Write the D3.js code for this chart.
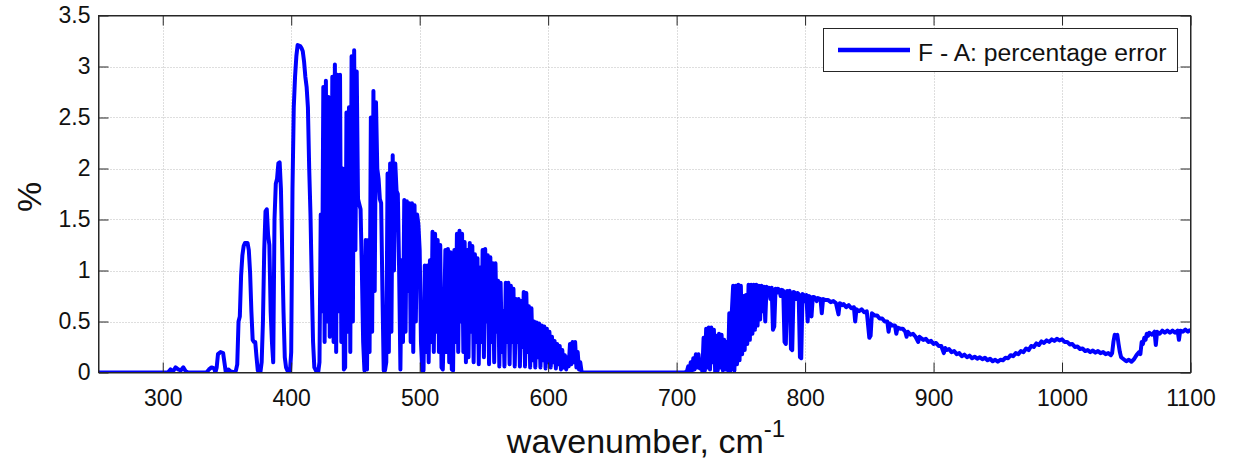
<!DOCTYPE html>
<html>
<head>
<meta charset="utf-8">
<script src="https://cdn.jsdelivr.net/npm/d3@7/dist/d3.min.js"></script>
<style>
  html, body { margin: 0; padding: 0; background: #fff; }
  svg { display: block; font-family: "Liberation Sans", Arial, Helvetica, sans-serif; }
</style>
</head>
<body>
<svg id="chart" width="1235" height="462"></svg>
<script>
// Percentage error spectrum (F - A), wavenumber in cm^-1 vs. %
// Each segment holds [wavenumber, percent] pairs.
const quietBand = [[250,0],[304,0],[306,0.03],[308,0.01],[310,0.05],[312,0.03],[314,0.02],[316,0.05],[318,0.01],[320,0],
  [334,0],[336,0.03],[338,0.05],[340,0.04],[341,0],[342,0.05],[343,0.18],[345,0.2],[347,0.19],[348,0.1],[349,0.01],
  [351,0.03],[353,0.01],[356,0]];

const band360 = [[357,0.02],[358,0.08],[359,0.5],[360,0.55],[361,0.95],[362,1.15],[363,1.24],[364,1.27],[366,1.27],
  [367,1.2],[368,0.98],[369,0.6],[370,0.32],[371,0.3],[372,0.3],[373,0.15],[374,0.02],[376,0],[377,0.1],[378,0.5],
  [379,1.2],[380,1.58],[381,1.6],[382,1.35],[383,1.25],[384,0.6],[385,0.3],[386,0.1],[387,1.5],[388,1.85],[389,1.9],
  [390,2.05],[391,2.06],[392,1.8],[393,1.2],[394,0.6],[395,0.15],[396,0.05],[397,0.02],[399,0],[400,0.2],[401,1.8],
  [402,2.6],[403,2.9],[404,3.1],[405,3.21],[407,3.2],[408,3.18],[409,3.15],[410,3.05],[411,2.9],[412,2.8],[413,2.6],
  [414,2.0],[415,1.55],[416,0.9],[417,0.3],[418,0.05],[420,0]];

const band420 = [[421,0],[422,0.1],[423,1.55],[424,0.6],[425,2.8],[426,0.3],[427,2.86],[428,0.5],[429,2.7],[430,0.35],
  [431,0.4],[432,2.9],[433,0.3],[434,3.02],[435,0.2],[436,2.92],[437,0.6],[438,2.92],[439,0.3],[440,2.0],[441,0.03],
  [442,0.05],[443,2.55],[444,0.4],[445,2.6],[446,0.2],[447,3.1],[448,0.5],[449,3.16],[450,1.2],[451,2.95],[452,1.7],
  [453,1.65],[454,1.6],[455,1.0],[456,0.3],[457,0.02],[458,1.3],[459,0.03],[460,1.3],[461,0.2],[462,2.5],[463,0.4],
  [464,2.76],[465,0.8],[466,2.65],[467,2.0],[468,1.9],[469,1.7],[470,1.66],[471,0.8],[472,0.02],[473,0.02],[474,0.1],
  [475,1.95],[476,0.2],[477,2.05],[478,0.4],[479,2.13],[480,1.0],[481,2.05],[482,1.78],[483,1.75],[484,1.0],
  [485,0.03],[486,1.1],[487,0.3],[488,1.69],[489,0.4],[490,1.68],[491,0.8],[492,1.66],[493,0.3],[494,1.66],[495,0.2],
  [496,1.64],[497,0.5],[498,1.55],[499,1.45],[500,1.2],[501,0.3],[502,0.02]];

const band500 = [[503,0.02],[504,1.05],[505,0.2],[506,1.05],[507,0.1],[508,1.1],[509,0.3],[510,1.38],[511,0.2],
  [512,1.36],[513,0.4],[514,1.3],[515,0.2],[516,1.25],[517,0.05],[518,0.03],[519,0.5],[520,1.2],[521,0.2],[522,1.21],
  [523,0.1],[524,1.18],[525,0.03],[526,0.02],[527,1.2],[528,0.3],[529,1.36],[530,0.2],[531,1.39],[532,0.5],[533,1.36],
  [534,0.2],[535,1.28],[536,0.1],[537,1.2],[538,0.15],[539,1.27],[540,0.4],[541,1.24],[542,0.1],[543,1.16],[544,0.3],
  [545,1.12],[546,0.08],[547,1.03],[548,0.3],[549,1.2],[550,0.15],[551,1.21],[552,0.5],[553,1.15],[554,0.08],
  [555,1.13],[556,0.3],[557,1.07],[558,0.1],[559,1.07],[560,0.4],[561,0.9],[562,0.06],[563,0.88],[564,0.2],[565,0.6],
  [566,0.06],[567,0.88],[568,0.3],[569,0.88],[570,0.08],[571,0.85],[572,0.3],[573,0.82],[574,0.06],[575,0.72],
  [576,0.3],[577,0.72],[578,0.06],[579,0.7],[580,0.25],[581,0.79],[582,0.06],[583,0.78],[584,0.2],[585,0.65],
  [586,0.05],[587,0.63],[588,0.12],[589,0.5],[590,0.05],[591,0.49],[592,0.15],[593,0.48],[594,0.05],[595,0.46],
  [596,0.12],[597,0.45],[598,0.04],[599,0.43],[600,0.1],[601,0.4],[602,0.05],[603,0.35],[604,0.1],[605,0.31],
  [606,0.04],[607,0.28],[608,0.08],[609,0.26],[610,0.03],[611,0.22],[612,0.05],[613,0.17],[614,0.03],[615,0.15],
  [616,0.06],[617,0.28],[618,0.08],[619,0.3],[620,0.1],[621,0.3],[622,0.05],[623,0.2],[624,0.03],[625,0.1],
  [626,0.01],[627,0]];

const gapBand = [[628,0],[705,0]];

const band710 = [[706,0],[708,0.01],[709,0.06],[710,0],[711,0.1],[712,0.02],[713,0.14],[714,0.03],[715,0.18],
  [716,0.05],[717,0.18],[718,0.04],[719,0.08],[720,0.01],[721,0.34],[722,0.02],[723,0.43],[724,0.05],[725,0.44],
  [726,0.03],[727,0.44],[728,0.1],[729,0.42],[730,0.01],[731,0.36],[732,0.02],[733,0.38],[734,0.05],[735,0.37],
  [736,0.02],[737,0.32],[738,0.03],[739,0.3],[740,0.02],[741,0.58],[742,0.02],[743,0.6]];

const band745 = [[744,0.85],[745,0.02],[746,0.85],[747,0.08],[748,0.86],[749,0.12],[750,0.85],[751,0.18],[752,0.75],
  [753,0.22],[754,0.76],[755,0.28],[756,0.86],[757,0.32],[758,0.86],[759,0.38],[760,0.86],[761,0.42],[762,0.86],
  [763,0.46],[764,0.85],[765,0.52],[766,0.85],[767,0.6],[768,0.84],[769,0.5],[770,0.84],[771,0.8],[772,0.83],
  [773,0.72],[774,0.83],[775,0.42],[776,0.45],[777,0.82],[778,0.78],[779,0.82],[780,0.81],[781,0.75],[782,0.81],
  [783,0.8],[784,0.3],[785,0.28],[786,0.8],[787,0.79],[788,0.8],[789,0.23],[790,0.22],[791,0.79],[792,0.78],
  [793,0.72],[794,0.78],[795,0.77],[796,0.15],[797,0.14],[798,0.77],[799,0.76],[800,0.7],[801,0.76],[802,0.5],
  [803,0.75],[804,0.74],[805,0.55],[806,0.74],[807,0.74],[808,0.73],[809,0.7],[810,0.73],[812,0.72],[813,0.58],
  [814,0.72],[816,0.71],[818,0.71],[820,0.69],[822,0.7],[824,0.68],[826,0.57],[827,0.68],[829,0.66]];

const tailBand = [[830,0.67],[832,0.64],[834,0.66],[836,0.63],[838,0.64],[839,0.5],[840,0.62],[842,0.6],[844,0.62],
  [846,0.59],[848,0.6],[850,0.34],[851,0.36],[852,0.58],[854,0.56],[856,0.56],[858,0.53],[860,0.53],[862,0.5],
  [864,0.5],[865,0.4],[866,0.48],[868,0.46],[870,0.46],[871,0.38],[872,0.44],[874,0.43],[876,0.43],[878,0.4],
  [879,0.35],[880,0.4],[882,0.37],[884,0.38],[886,0.35],[888,0.3],[889,0.35],[890,0.34],[892,0.32],[894,0.33],
  [896,0.3],[898,0.31],[900,0.28],[902,0.29],[904,0.26],[906,0.26],[908,0.19],[909,0.24],[910,0.22],[912,0.23],
  [914,0.2],[916,0.21],[918,0.18],[920,0.19],[922,0.16],[924,0.175],[926,0.15],[928,0.165],[930,0.14],[932,0.155],
  [934,0.135],[936,0.15],[938,0.13],[940,0.145],[942,0.12],[944,0.135],[946,0.11],[948,0.125],[950,0.105],
  [952,0.125],[954,0.12],[956,0.145],[958,0.14],[960,0.17],[962,0.16],[964,0.19],[966,0.18],[968,0.21],[970,0.2],
  [972,0.235],[974,0.22],[976,0.26],[978,0.25],[980,0.285],[982,0.27],[984,0.305],[986,0.29],[988,0.315],[990,0.3],
  [992,0.325],[994,0.31],[996,0.33],[998,0.315],[1000,0.325],[1002,0.3],[1004,0.3],[1006,0.275],[1008,0.28],
  [1010,0.25],[1012,0.255],[1014,0.23],[1016,0.235],[1018,0.21],[1020,0.22],[1022,0.2],[1024,0.215],[1026,0.195],
  [1028,0.21],[1030,0.19],[1032,0.2],[1034,0.18],[1036,0.19],[1038,0.17],[1039,0.19],[1040,0.3],[1041,0.37],
  [1042,0.36],[1043,0.37],[1044,0.28],[1045,0.2],[1046,0.15],[1048,0.13],[1050,0.11],[1052,0.125],[1054,0.105],
  [1056,0.13],[1058,0.17],[1060,0.2],[1061,0.18],[1062,0.3],[1063,0.28],[1064,0.34],[1065,0.32],[1066,0.38],
  [1067,0.36],[1068,0.39],[1070,0.37],[1072,0.4],[1073,0.27],[1074,0.4],[1076,0.38],[1078,0.41],[1080,0.39],
  [1082,0.41],[1084,0.39],[1086,0.41],[1088,0.39],[1090,0.41],[1091,0.32],[1092,0.41],[1094,0.4],[1096,0.42],
  [1098,0.4],[1100,0.42]];

const xTicks = [300, 400, 500, 600, 700, 800, 900, 1000, 1100];
const yTicks = [0, 0.5, 1, 1.5, 2, 2.5, 3, 3.5];
const legendLabel = "F - A: percentage error";

const series = [].concat(quietBand, band360, band420, band500, gapBand, band710, band745, tailBand);

const svg = d3.select("#chart");
const plotL = 98.5, plotR = 1190.5, plotT = 15.5, plotB = 372.5;

const x = d3.scaleLinear().domain([250, 1100]).range([plotL, plotR]);
const y = d3.scaleLinear().domain([0, 3.5]).range([plotB, plotT]);

svg.append("rect").attr("width", 1235).attr("height", 462).attr("fill", "#fff");

// dotted grid
const grid = svg.append("g").attr("stroke", "#bdbdbd").attr("stroke-width", 1).attr("stroke-dasharray", "1,2");
xTicks.filter(t => t > 250 && t < 1100).forEach(t => {
  grid.append("line").attr("x1", Math.round(x(t)) + 0.5).attr("x2", Math.round(x(t)) + 0.5)
    .attr("y1", plotT).attr("y2", plotB);
});
yTicks.filter(t => t > 0 && t < 3.5).forEach(t => {
  grid.append("line").attr("x1", plotL).attr("x2", plotR)
    .attr("y1", Math.round(y(t)) + 0.5).attr("y2", Math.round(y(t)) + 0.5);
});

// data line
svg.append("clipPath").attr("id", "plotclip").append("rect")
  .attr("x", plotL).attr("y", plotT - 3).attr("width", plotR - plotL).attr("height", plotB - plotT + 3);

const line = d3.line().x(d => x(d[0])).y(d => y(d[1]));
svg.append("path").datum(series)
  .attr("clip-path", "url(#plotclip)")
  .attr("fill", "none").attr("stroke", "#0000ff").attr("stroke-width", 4)
  .attr("stroke-linejoin", "round").attr("d", line);

// axes box + inner ticks on all sides
const axisColor = "#262626";
const tickLen = 10;
const fmt = d3.format("");
const xb = svg.append("g").attr("transform", `translate(0,${plotB})`)
  .call(d3.axisBottom(x).tickValues(xTicks).tickSizeInner(-tickLen).tickSizeOuter(0).tickPadding(17).tickFormat(fmt));
const xt = svg.append("g").attr("transform", `translate(0,${plotT})`)
  .call(d3.axisTop(x).tickValues(xTicks).tickSizeInner(-tickLen).tickSizeOuter(0).tickFormat(""));
const yl = svg.append("g").attr("transform", `translate(${plotL},0)`)
  .call(d3.axisLeft(y).tickValues(yTicks).tickSizeInner(-tickLen).tickSizeOuter(0).tickPadding(8).tickFormat(fmt));
const yr = svg.append("g").attr("transform", `translate(${plotR},0)`)
  .call(d3.axisRight(y).tickValues(yTicks).tickSizeInner(-tickLen).tickSizeOuter(0).tickFormat(""));

[xb, xt, yl, yr].forEach(g => {
  g.select(".domain").attr("stroke", axisColor);
  g.selectAll(".tick line").attr("stroke", axisColor);
  g.selectAll(".tick text").attr("fill", "#111").style("font-size", "23px")
    .style("font-family", '"Liberation Sans", Arial, Helvetica, sans-serif');
});
svg.append("rect").attr("x", plotL).attr("y", plotT).attr("width", plotR - plotL).attr("height", plotB - plotT)
  .attr("fill", "none").attr("stroke", axisColor).attr("stroke-width", 1);

// axis titles
const xTitle = svg.append("text").attr("x", 646).attr("y", 453).attr("text-anchor", "middle")
  .attr("fill", "#111").style("font-size", "34px");
xTitle.append("tspan").text("wavenumber, cm");
xTitle.append("tspan").attr("dy", -16).style("font-size", "24px").text("-1");

svg.append("text").attr("transform", "translate(41,197) rotate(-90)").attr("text-anchor", "middle")
  .attr("fill", "#111").style("font-size", "34px").text("%");

// legend
const lg = svg.append("g");
lg.append("rect").attr("x", 823.5).attr("y", 28.5).attr("width", 354).attr("height", 43)
  .attr("fill", "#fff").attr("stroke", axisColor).attr("stroke-width", 1);
lg.append("line").attr("x1", 838).attr("x2", 910).attr("y1", 50).attr("y2", 50)
  .attr("stroke", "#0000ff").attr("stroke-width", 4.5);
lg.append("text").attr("x", 918).attr("y", 61).attr("fill", "#111").style("font-size", "24.7px").text(legendLabel);
</script>
</body>
</html>
